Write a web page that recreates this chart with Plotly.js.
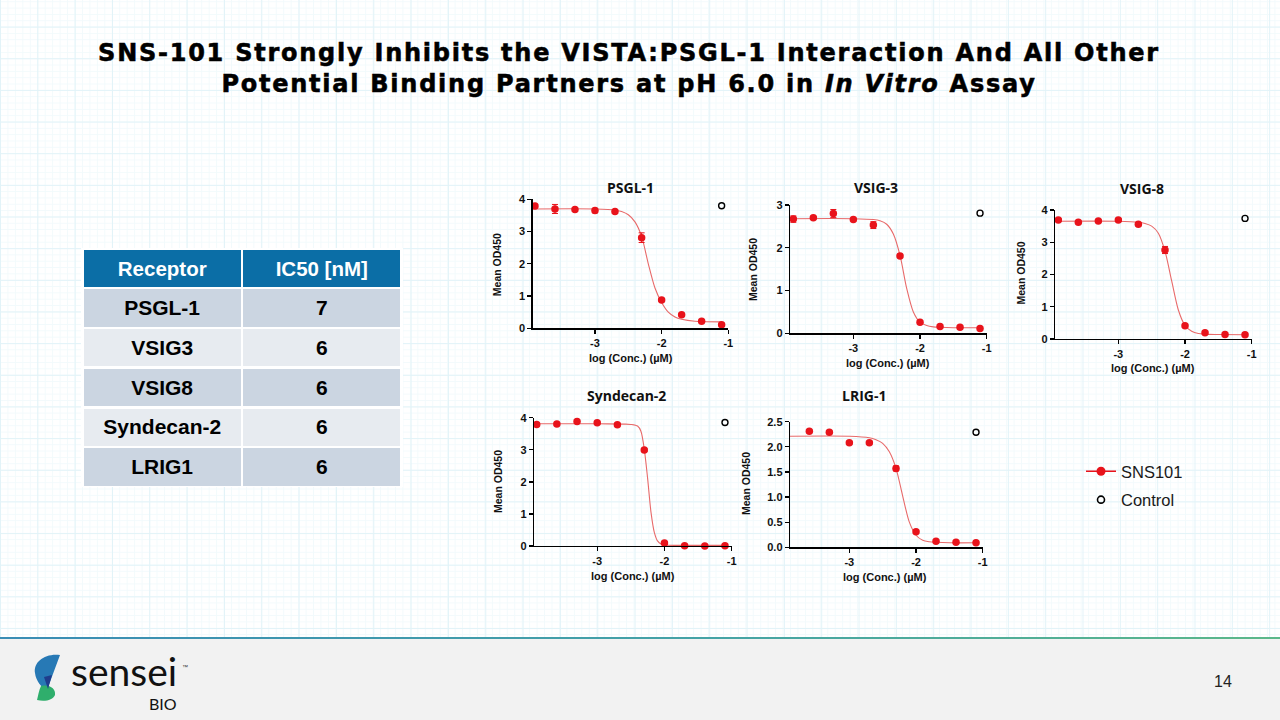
<!DOCTYPE html>
<html><head><meta charset="utf-8">
<script src="https://cdn.plot.ly/plotly-3.0.1.min.js"></script>
<style>
html,body{margin:0;padding:0;background:#fff;}
#slide{position:relative;width:1280px;height:720px;overflow:hidden;background:#fff;}
#grid{position:absolute;left:0;top:0;width:1280px;height:637px;
 background-image:
  linear-gradient(to right, #e2f3f8 0, #e2f3f8 1px, transparent 1px),
  linear-gradient(to bottom, #e2f3f8 0, #e2f3f8 1px, transparent 1px),
  linear-gradient(to right, #f2fafc 0, #f2fafc 1px, transparent 1px),
  linear-gradient(to bottom, #f2fafc 0, #f2fafc 1px, transparent 1px);
 background-size:37.33px 100%, 100% 31.67px, 7.467px 100%, 100% 6.333px;
 background-position:0 0, 0 26.6px, 0 0, 0 1.3px;}
#rule{position:absolute;left:0;top:637px;width:1280px;height:2px;background:linear-gradient(to right,#3a8db5,#45a3a6 55%,#5cb88a);}
#foot{position:absolute;left:0;top:639px;width:1280px;height:81px;background:#f2f2f2;}
#chart{position:absolute;left:0;top:0;width:1280px;height:720px;}
#chart .gtitle{letter-spacing:1.75px;stroke:#000;stroke-width:0.55px;}
</style></head>
<body>
<div id="slide"><div id="grid"></div><div id="rule"></div><div id="foot"></div><div id="chart"></div></div>
<script>
// ---------- data ----------
const titleLines = ['SNS-101 Strongly Inhibits the VISTA:PSGL-1 Interaction And All Other',
                    'Potential Binding Partners at pH 6.0 in <i>In Vitro</i> Assay'];
const tableHeader = ['Receptor', 'IC50 [nM]'];
const receptors = ['PSGL-1', 'VSIG3', 'VSIG8', 'Syndecan-2', 'LRIG1'];
const ic50 = [7, 6, 6, 6, 6];

const xTickVals = [-3, -2, -1];
const xTickText = ['-3', '-2', '-1'];

const xConc = [-3.9, -3.6, -3.3, -3.0, -2.7, -2.3, -2.0, -1.7, -1.4, -1.1];
const xConcLrig = [-3.6, -3.3, -3.0, -2.7, -2.3, -2.0, -1.7, -1.4, -1.1];
const xControl = [-1.1];

const psglY   = [3.79, 3.70, 3.68, 3.65, 3.62, 2.81, 0.88, 0.42, 0.22, 0.11];
const psglErr = [0.05, 0.14, 0.04, 0.07, 0.04, 0.15, 0.04, 0.03, 0.02, 0.02];
const psglCtrl = [3.80];
const psglFitX = [-3.93, -3.0, -2.7, -2.6, -2.5, -2.4, -2.3, -2.2, -2.1, -2.0, -1.9, -1.8, -1.7, -1.5, -1.1];
const psglFitY = [3.70, 3.70, 3.67, 3.62, 3.52, 3.30, 2.85, 2.00, 1.25, 0.80, 0.50, 0.35, 0.28, 0.22, 0.20];

const vsig3Y   = [2.67, 2.70, 2.80, 2.66, 2.53, 1.81, 0.26, 0.16, 0.14, 0.11];
const vsig3Err = [0.075, 0.03, 0.095, 0.03, 0.08, 0.04, 0.03, 0.02, 0.02, 0.02];
const vsig3Ctrl = [2.81];
const vsig3FitX = [-3.95, -3.0, -2.7, -2.6, -2.5, -2.4, -2.3, -2.2, -2.1, -2.0, -1.9, -1.8, -1.7, -1.5, -1.1];
const vsig3FitY = [2.68, 2.68, 2.66, 2.63, 2.55, 2.32, 1.82, 1.05, 0.50, 0.26, 0.18, 0.15, 0.14, 0.13, 0.13];

const vsig8Y   = [3.69, 3.62, 3.66, 3.69, 3.56, 2.76, 0.41, 0.19, 0.14, 0.13];
const vsig8Err = [0.04, 0.03, 0.03, 0.04, 0.05, 0.11, 0.03, 0.02, 0.02, 0.02];
const vsig8Ctrl = [3.74];
const vsig8FitX = [-3.95, -3.0, -2.7, -2.6, -2.5, -2.4, -2.3, -2.2, -2.1, -2.0, -1.9, -1.8, -1.7, -1.5, -1.1];
const vsig8FitY = [3.65, 3.65, 3.62, 3.58, 3.50, 3.28, 2.72, 1.80, 0.90, 0.42, 0.24, 0.17, 0.15, 0.14, 0.13];

const syndY   = [3.79, 3.80, 3.88, 3.84, 3.78, 2.99, 0.09, 0.01, 0.00, 0.01];
const syndErr = [0.06, 0.03, 0.03, 0.03, 0.03, 0.04, 0.02, 0.01, 0.01, 0.01];
const syndCtrl = [3.85];
const syndFitX = [-3.94, -3.0, -2.6, -2.5, -2.4, -2.35, -2.3, -2.25, -2.2, -2.15, -2.1, -2.05, -2.0, -1.8, -1.1];
const syndFitY = [3.81, 3.81, 3.80, 3.79, 3.74, 3.58, 3.02, 2.10, 1.05, 0.42, 0.15, 0.06, 0.03, 0.02, 0.02];

const lrigY   = [2.31, 2.29, 2.08, 2.08, 1.57, 0.31, 0.12, 0.10, 0.09];
const lrigErr = [0.02, 0.02, 0.02, 0.02, 0.05, 0.02, 0.01, 0.01, 0.01];
const lrigCtrl = [2.29];
const lrigFitX = [-3.89, -3.0, -2.7, -2.6, -2.5, -2.4, -2.3, -2.2, -2.1, -2.0, -1.9, -1.8, -1.7, -1.5, -1.1];
const lrigFitY = [2.21, 2.21, 2.18, 2.14, 2.07, 1.90, 1.57, 1.02, 0.50, 0.24, 0.14, 0.11, 0.10, 0.09, 0.09];

// ---------- layout helpers ----------
const W = 1280, H = 720;
const px = v => v / W;
const py = v => 1 - v / H;
const RED = '#e8131b', FIT = '#e86a6a';
const AX_FONT = {family: 'Liberation Sans, Arial, sans-serif', size: 11, color: '#111', weight: 'bold'};

const panels = [
  {name: 'PSGL-1', x: xConc, y: psglY, err: psglErr, ctrl: psglCtrl, fx: psglFitX, fy: psglFitY,
   dom: [532.7, 728.3, 199.3, 328.3], xr: [-3.934, -1], yr: [0, 4], dt: 1, fmt: '',
   t: [630, 188], xt: [630.5, 358], yt: [496.5, 264.7]},
  {name: 'VSIG-3', x: xConc, y: vsig3Y, err: vsig3Err, ctrl: vsig3Ctrl, fx: vsig3FitX, fy: vsig3FitY,
   dom: [790, 986.7, 205, 333.3], xr: [-3.95, -1], yr: [0, 3], dt: 1, fmt: '',
   t: [875.5, 188], xt: [887.7, 362.5], yt: [753, 270]},
  {name: 'VSIG-8', x: xConc, y: vsig8Y, err: vsig8Err, ctrl: vsig8Ctrl, fx: vsig8FitX, fy: vsig8FitY,
   dom: [1055, 1251.7, 210, 339], xr: [-3.95, -1], yr: [0, 4], dt: 1, fmt: '',
   t: [1142, 189], xt: [1153, 367.5], yt: [1020, 273.5]},
  {name: 'Syndecan-2', x: xConc, y: syndY, err: syndErr, ctrl: syndCtrl, fx: syndFitX, fy: syndFitY,
   dom: [534, 731.7, 417.7, 546], xr: [-3.94, -1], yr: [0, 4], dt: 1, fmt: '',
   t: [626.7, 395.5], xt: [633, 575.5], yt: [498.5, 481.5]},
  {name: 'LRIG-1', x: xConcLrig, y: lrigY, err: lrigErr, ctrl: lrigCtrl, fx: lrigFitX, fy: lrigFitY,
   dom: [790, 982.7, 421.7, 547.3], xr: [-3.89, -1], yr: [0, 2.5], dt: 0.5, fmt: '.1f',
   t: [863.5, 395.5], xt: [885, 577], yt: [746, 484]}
];

const traces = [];
const layout = {
  width: W, height: H, margin: {l: 0, r: 0, t: 0, b: 0},
  paper_bgcolor: 'rgba(0,0,0,0)', plot_bgcolor: 'rgba(0,0,0,0)',
  showlegend: true,
  title: {text: titleLines.join('<br>'), x: 629 / W, xanchor: 'center', y: 1 - 61 / H, yanchor: 'top',
          font: {family: 'DejaVu Sans, sans-serif', size: 24, weight: 'bold', color: '#000'}},
  legend: {x: px(1081), y: py(454), xanchor: 'left', yanchor: 'top', bgcolor: 'rgba(0,0,0,0)',
           font: {family: 'Liberation Sans, Arial, sans-serif', size: 16.5, color: '#1a1a1a'},
           tracegroupgap: 4, itemwidth: 30},
  annotations: [], shapes: []
};

panels.forEach((p, i) => {
  const n = i + 1;
  const xa = 'x' + (n === 1 ? '' : n), ya = 'y' + (n === 1 ? '' : n);
  const xk = 'xaxis' + (n === 1 ? '' : n), yk = 'yaxis' + (n === 1 ? '' : n);
  layout[xk] = {domain: [px(p.dom[0]), px(p.dom[1])], range: p.xr, anchor: ya,
    showgrid: false, zeroline: false, showline: true, linecolor: '#000', linewidth: 1.3,
    ticks: 'outside', ticklen: 4, tickwidth: 1.3, tickcolor: '#000',
    tickvals: xTickVals, ticktext: xTickText, tickfont: AX_FONT, fixedrange: true};
  layout[yk] = {domain: [py(p.dom[3]), py(p.dom[2])], range: p.yr, anchor: xa,
    showgrid: false, zeroline: false, showline: true, linecolor: '#000', linewidth: 1.3,
    ticks: 'outside', ticklen: 4, tickwidth: 1.3, tickcolor: '#000',
    dtick: p.dt, tick0: 0, tickformat: p.fmt, tickfont: AX_FONT, fixedrange: true};
  traces.push({type: 'scatter', mode: 'lines', x: p.fx, y: p.fy, xaxis: xa, yaxis: ya,
    line: {color: FIT, width: 1.1, shape: 'spline', smoothing: 0.8}, showlegend: false, hoverinfo: 'skip'});
  traces.push({type: 'scatter', mode: 'markers', x: p.x, y: p.y, xaxis: xa, yaxis: ya, name: 'SNS101',
    marker: {color: RED, size: 7.5}, cliponaxis: false, showlegend: false,
    error_y: {type: 'data', array: p.err, visible: true, color: RED, thickness: 1, width: 3}});
  traces.push({type: 'scatter', mode: 'markers', x: xControl, y: p.ctrl, xaxis: xa, yaxis: ya, name: 'Control',
    marker: {symbol: 'circle-open', color: '#000', size: 6, line: {width: 1.4, color: '#000'}},
    cliponaxis: false, showlegend: false});
  layout.annotations.push(
    {text: p.name, x: px(p.t[0]), y: py(p.t[1]), xref: 'paper', yref: 'paper', showarrow: false,
     xanchor: 'center', yanchor: 'middle', font: {family: 'Open Sans, sans-serif', size: 14, weight: 'bold', color: '#111'}},
    {text: 'log (Conc.) (µM)', x: px(p.xt[0]), y: py(p.xt[1]), xref: 'paper', yref: 'paper', showarrow: false,
     xanchor: 'center', yanchor: 'middle', font: {family: 'Liberation Sans, Arial, sans-serif', size: 11, weight: 'bold', color: '#111'}},
    {text: 'Mean OD450', x: px(p.yt[0]), y: py(p.yt[1]), xref: 'paper', yref: 'paper', showarrow: false, textangle: -90,
     xanchor: 'center', yanchor: 'middle', font: {family: 'Liberation Sans, Arial, sans-serif', size: 10.5, weight: 'bold', color: '#111'}}
  );
});

// legend entries
traces.push({type: 'scatter', mode: 'lines+markers', x: [null], y: [null], name: 'SNS101', legendgroup: 'a',
  line: {color: RED, width: 1.5}, marker: {color: RED, size: 9}});
traces.push({type: 'scatter', mode: 'markers', x: [null], y: [null], name: 'Control', legendgroup: 'b',
  marker: {symbol: 'circle-open', color: '#000', size: 7, line: {width: 1.6, color: '#000'}}});

// table
const rowFills = receptors.map((r, i) => i % 2 === 0 ? '#cbd5e1' : '#e7ebf0');
traces.push({type: 'table', domain: {x: [px(82.5), px(401.5)], y: [py(487.5), py(249)]},
  columnwidth: [1, 1],
  header: {values: tableHeader.map(h => ['<b>' + h + '</b>']), align: 'center', height: 38.5,
    fill: {color: '#0b6ea6'}, line: {color: '#ffffff', width: 2.5},
    font: {family: 'Liberation Sans, Arial, sans-serif', size: 20.5, color: '#ffffff'}},
  cells: {values: [receptors.map(r => '<b>' + r + '</b>'), ic50.map(v => '<b>' + v + '</b>')],
    align: 'center', height: 39.8, fill: {color: [rowFills, rowFills]}, line: {color: '#ffffff', width: 2.5},
    font: {family: 'Liberation Sans, Arial, sans-serif', size: 21, color: '#000'}}
});

// footer: logo + page number
function svgPath(pts) {
  let s = 'M' + px(pts[0][0]) + ',' + py(pts[0][1]);
  for (let i = 1; i + 2 < pts.length; i += 3) {
    s += ' C' + [pts[i], pts[i+1], pts[i+2]].map(q => px(q[0]) + ',' + py(q[1])).join(' ');
  }
  return s + ' Z';
}
layout.shapes.push(
  {type: 'path', xref: 'paper', yref: 'paper', layer: 'above', line: {width: 0},
   fillcolor: '#2779b5', path: svgPath([[60,655],[45,653],[33,662],[35,673],[36,681],[41,687],[47,690]])},
  {type: 'path', xref: 'paper', yref: 'paper', layer: 'above', line: {width: 0},
   fillcolor: '#2fae6c', path: svgPath([[41,686],[50,684],[56,689],[55,695],[53,700],[45,702],[37,700],[38,696],[39,690],[41,686]])},
  {type: 'path', xref: 'paper', yref: 'paper', layer: 'above', line: {width: 0},
   fillcolor: '#1f3d8c', path: 'M' + px(44) + ',' + py(677) + ' L' + px(52) + ',' + py(675) + ' L' + px(48) + ',' + py(689) + ' Z'}
);
layout.annotations.push(
  {text: 'sensei', x: px(124), y: py(671), xref: 'paper', yref: 'paper', showarrow: false, xanchor: 'center', yanchor: 'middle',
   font: {family: 'Lato, sans-serif', size: 39, color: '#111'}},
  {text: 'BIO', x: px(179), y: py(703), xref: 'paper', yref: 'paper', showarrow: false, xanchor: 'right', yanchor: 'middle',
   font: {family: 'Lato, sans-serif', size: 16, color: '#111'}},
  {text: '™', x: px(180), y: py(667), xref: 'paper', yref: 'paper', showarrow: false, xanchor: 'left', yanchor: 'middle',
   font: {family: 'Liberation Sans, Arial, sans-serif', size: 6, color: '#333'}},
  {text: '14', x: px(1223), y: py(681), xref: 'paper', yref: 'paper', showarrow: false, xanchor: 'center', yanchor: 'middle',
   font: {family: 'Liberation Sans, Arial, sans-serif', size: 16, color: '#222'}}
);

Plotly.newPlot('chart', traces, layout, {staticPlot: true, displayModeBar: false});
</script>
</body></html>
